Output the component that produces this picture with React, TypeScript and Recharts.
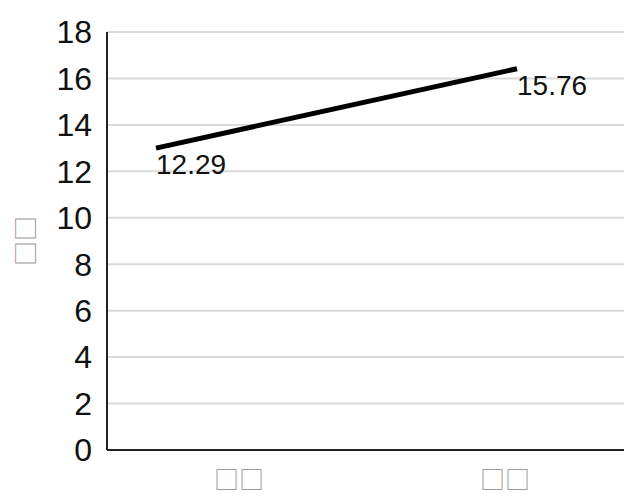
import React from 'react';
import {
  LineChart,
  Line,
  XAxis,
  YAxis,
  CartesianGrid,
} from 'recharts';

// ─── Data ─────────────────────────────────────────────────────────────────────

const categories = ['□□', '□□'];
const seriesValues = [13.0, 16.42];
const pointLabels = ['12.29', '15.76'];
const yTicks = [0, 2, 4, 6, 8, 10, 12, 14, 16, 18];
const yTitle = '□□';

const rows = categories.map((cat, i) => ({
  key: `c${i}`,
  cat,
  value: seriesValues[i],
}));

const FONT = '"Liberation Sans", Arial, sans-serif';
const BOX_FONT = '"Noto Sans CJK SC", "DejaVu Sans", sans-serif';
const BOX_COLOR = '#9a9a9a';

// ─── Labels ───────────────────────────────────────────────────────────────────

function PointLabel(props: any): React.ReactElement | null {
  const { x, y, index } = props;
  if (x == null || y == null) return null;
  return (
    <text x={x} y={y + 26} fontSize={28} fontFamily={FONT} fill="#111" textAnchor="start">
      {pointLabels[index]}
    </text>
  );
}

function YTitle(props: any): React.ReactElement {
  const vb = props.viewBox ?? { x: 0, y: 32, width: 107, height: 418 };
  const cx = 24;
  const cy = vb.y + vb.height / 2;
  return (
    <text
      x={cx}
      y={cy}
      transform={`rotate(-90, ${cx}, ${cy})`}
      textAnchor="middle"
      dominantBaseline="central"
      fontSize={25}
      fontFamily={BOX_FONT}
      fill={BOX_COLOR}
    >
      {yTitle}
    </text>
  );
}

function CatTick(props: any): React.ReactElement {
  const { x, y, index, payload } = props;
  const i = index ?? payload?.index ?? 0;
  return (
    <text
      x={x}
      y={y + 37}
      textAnchor="middle"
      fontSize={25}
      fontFamily={BOX_FONT}
      fill={BOX_COLOR}
    >
      {categories[i]}
    </text>
  );
}

// ─── Component ────────────────────────────────────────────────────────────────

export default function App(): React.ReactElement {
  return (
    <div style={{ position: 'absolute', left: 0, top: 0, width: 624, height: 496, overflow: 'hidden', background: '#fff' }}>
      <LineChart
        width={640}
        height={496}
        data={rows}
        margin={{ top: 32, right: 3, bottom: 0, left: 0 }}
      >
        <CartesianGrid horizontal vertical={false} stroke="#dadada" strokeWidth={2} />
        <XAxis
          dataKey="key"
          type="category"
          height={46}
          padding={{ left: 132, right: 132 }}
          axisLine={{ stroke: '#222', strokeWidth: 2 }}
          tickLine={false}
          tickSize={0}
          tick={<CatTick />}
          interval={0}
        />
        <XAxis
          xAxisId="pts"
          dataKey="key"
          type="category"
          hide
          padding={{ left: 49, right: 120 }}
        />
        <YAxis
          domain={[0, 18]}
          ticks={yTicks}
          width={107}
          axisLine={{ stroke: '#222', strokeWidth: 2 }}
          tickLine={false}
          tickSize={0}
          tickMargin={15}
          tick={{ fontSize: 32, fontFamily: FONT, fill: '#111' }}
          label={<YTitle />}
        />
        <Line
          xAxisId="pts"
          dataKey="value"
          stroke="#000"
          strokeWidth={5}
          dot={false}
          activeDot={false}
          label={<PointLabel />}
          isAnimationActive={false}
        />
      </LineChart>
    </div>
  );
}
